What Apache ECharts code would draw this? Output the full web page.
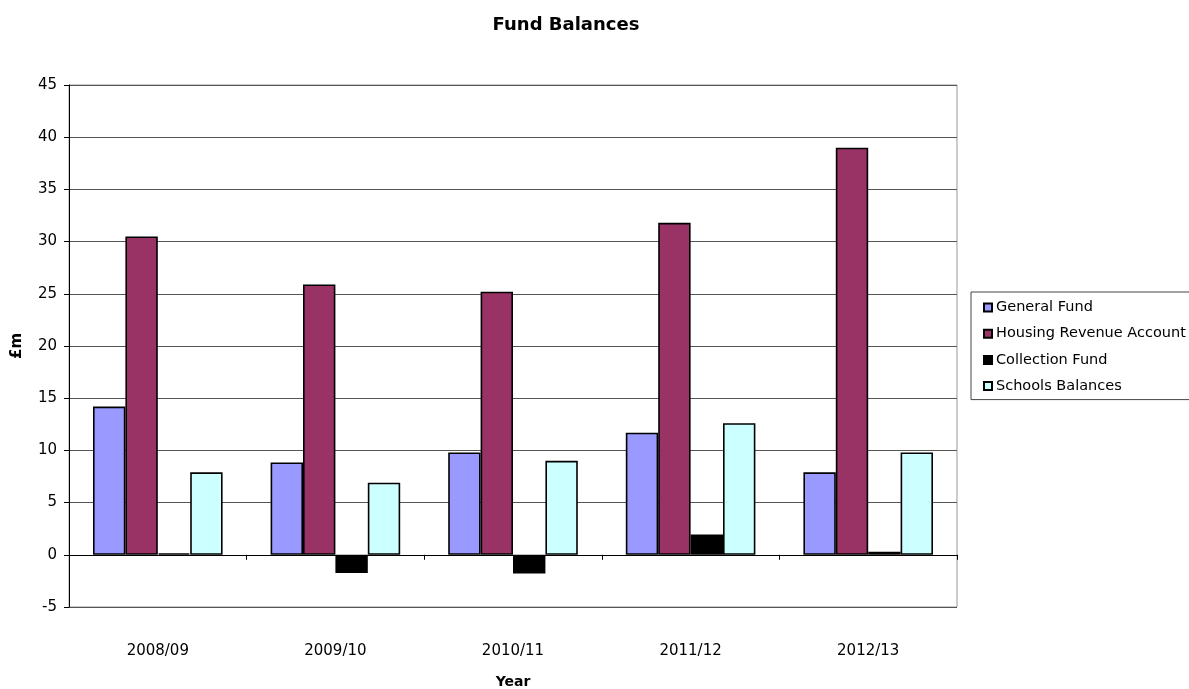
<!DOCTYPE html>
<html><head><meta charset="utf-8">
<script src="https://cdn.jsdelivr.net/npm/echarts@6/dist/echarts.min.js"></script>
<style>html,body{margin:0;padding:0;background:#fff}#c{width:1189px;height:689px}</style>
</head><body><div id="c"></div>
<script>
const categories = ['2008/09','2009/10','2010/11','2011/12','2012/13'];
const generalFund = [14.2, 8.85, 9.8, 11.7, 7.9];
const housingRevenue = [30.5, 25.9, 25.2, 31.8, 39.0];
const collectionFund = [0.15, -1.75, -1.8, 1.95, 0.3];
const schoolsBalances = [7.9, 6.9, 9.0, 12.6, 9.8];
const yTicks = {min: -5, max: 45, interval: 5};

const font = 'DejaVu Sans, Liberation Sans, Arial, sans-serif';
const chart = echarts.init(document.getElementById('c'));
const mk = (name, data, color) => ({
  name, type: 'bar', data, xAxisIndex: 0, barWidth: 32.4, barGap: '0%',
  itemStyle: {color, borderColor: '#000', borderWidth: 1.6},
  emphasis: {disabled: true}
});
chart.setOption({
  animation: false,
  title: {text: 'Fund Balances', left: 561, textAlign: 'center', top: 11,
    textStyle: {fontFamily: font, fontSize: 18, fontWeight: 'bold', color: '#000'}},
  grid: {left: 69, right: 232, top: 85, bottom: 82, show: true, borderColor: '#999', borderWidth: 1,
    containLabel: false, outerBoundsMode: 'none'},
  legend: {orient: 'vertical', left: 971, top: 292, padding: [8, 40, 6, 12],
    itemWidth: 8, itemHeight: 8, itemGap: 11.2, borderColor: '#444', borderWidth: 1,
    textStyle: {fontFamily: font, fontSize: 14.5, color: '#000', padding: [0,0,0,-1]},
    icon: 'rect'},
  xAxis: [
    {type: 'category', data: categories, position: 'bottom',
      axisLine: {show: true, onZero: true, lineStyle: {color: '#000', width: 1}},
      axisTick: {show: true, length: 5, lineStyle: {color: '#000'}},
      axisLabel: {show: false}, splitLine: {show: false}},
    {type: 'category', data: categories, position: 'bottom',
      axisLine: {show: false, onZero: false}, axisTick: {show: false},
      axisLabel: {margin: 37, fontFamily: font, fontSize: 15, color: '#000'},
      name: 'Year', nameLocation: 'middle', nameGap: 68,
      nameTextStyle: {fontFamily: font, fontSize: 14, fontWeight: 'bold', color: '#000'}}
  ],
  yAxis: {type: 'value', min: yTicks.min, max: yTicks.max, interval: yTicks.interval,
    axisLine: {show: true, lineStyle: {color: '#000', width: 1}},
    axisTick: {show: true, length: 5, lineStyle: {color: '#000'}},
    axisLabel: {fontFamily: font, fontSize: 15, color: '#000', margin: 12},
    splitLine: {show: true, lineStyle: {color: '#555', width: 1}},
    name: '£m', nameLocation: 'middle', nameGap: 44, nameRotate: 90,
    nameTextStyle: {fontFamily: font, fontSize: 15, fontWeight: 'bold', color: '#000'}},
  series: [
    mk('General Fund', generalFund, '#9999FF'),
    mk('Housing Revenue Account', housingRevenue, '#993366'),
    mk('Collection Fund', collectionFund, '#000000'),
    mk('Schools Balances', schoolsBalances, '#CCFFFF')
  ]
});
</script></body></html>
